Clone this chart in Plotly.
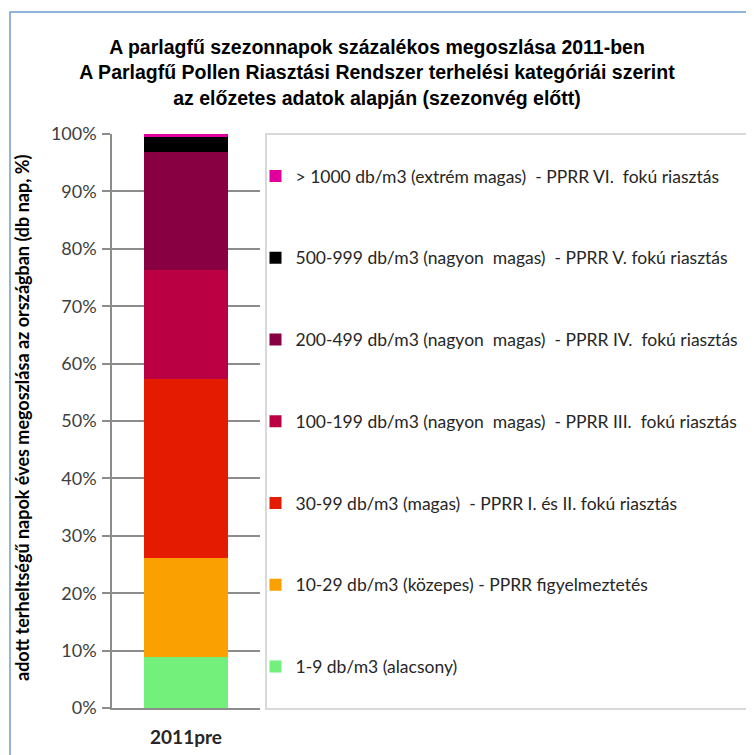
import plotly.graph_objects as go

categories = ["2011pre"]
series_names = [
    "1-9 db/m3 (alacsony)",
    "10-29 db/m3 (közepes) - PPRR figyelmeztetés",
    "30-99 db/m3 (magas)  - PPRR I. és II. fokú riasztás",
    "100-199 db/m3 (nagyon  magas)  - PPRR III.  fokú riasztás",
    "200-499 db/m3 (nagyon  magas)  - PPRR IV.  fokú riasztás",
    "500-999 db/m3 (nagyon  magas)  - PPRR V. fokú riasztás",
    "> 1000 db/m3 (extrém magas)  - PPRR VI.  fokú riasztás",
]
series_values = [0.089, 0.173, 0.312, 0.189, 0.205, 0.026, 0.006]
series_colors = ["#73F07B", "#FAA000", "#E41B00", "#BA0042", "#890042", "#000000", "#E2009D"]
y_tick_vals = [i / 10 for i in range(11)]
y_tick_text = [f"{i*10}%" for i in range(11)]

title_lines = [
    "A parlagfű szezonnapok százalékos megoszlása 2011-ben",
    "A Parlagfű Pollen Riasztási Rendszer terhelési kategóriái szerint",
    "az előzetes adatok alapján (szezonvég előtt)",
]
y_title = "adott terheltségű napok éves megoszlása az országban (db nap, %)"

fig = go.Figure()
n = len(series_names)
for i, (name, val, col) in enumerate(zip(series_names, series_values, series_colors)):
    fig.add_trace(go.Bar(
        x=categories, y=[val], name=name, marker_color=col,
        marker_line_width=0, width=0.57, legendgroup=name, legendrank=100 * (n - i),
    ))

# page body has an 8px margin, so figure coords = page coords - 8
O = 8
W, H = 754 - O, 755 - O
L, R, T, B = 112 - O, W - (260 - O), 134 - O, H - (708 - O)
pw, ph = W - L - R, H - T - B

def px_x(x):  # page px -> paper
    return (x - O - L) / pw

def px_y(y):
    return (H - B - (y - O)) / ph

grid = "#8C8C8C"
fig.update_layout(
    width=W, height=H,
    margin=dict(l=L, r=R, t=T, b=B, autoexpand=False),
    paper_bgcolor="white", plot_bgcolor="white",
    barmode="stack",
    showlegend=True,
    legend=dict(
        x=px_x(255.5), y=px_y(158), xanchor="left", yanchor="top",
        traceorder="grouped", tracegroupgap=56,
        font=dict(family="Lato", size=17.5, color="#262626"),
        bgcolor="rgba(0,0,0,0)", borderwidth=0,
    ),
    title=dict(
        text="<br>".join(title_lines),
        x=(377 - O) / W, xref="container", xanchor="center",
        y=1 - (54 - O) / H, yref="container", yanchor="middle",
        font=dict(family="Liberation Sans", size=19.5, color="#000000", weight="bold"),
    ),
    xaxis=dict(
        range=[-0.5, 0.5], showline=True, linecolor=grid, linewidth=1.5,
        ticks="", tickfont=dict(family="Lato", size=19, color="#262626", weight="bold"),
        showgrid=False, fixedrange=True, ticklabelstandoff=11,
    ),
    yaxis=dict(
        range=[0, 1], tickvals=y_tick_vals, ticktext=y_tick_text,
        showgrid=True, gridcolor=grid, gridwidth=1.5,
        showline=True, linecolor=grid, linewidth=1.5,
        ticks="outside", ticklen=8, tickcolor=grid, tickwidth=1.5,
        tickfont=dict(family="Lato", size=18, color="#404040"),
        ticklabelstandoff=2, zeroline=False,
    ),
    annotations=[dict(
        text=y_title, textangle=-90, x=px_x(22), y=px_y(418),
        xref="paper", yref="paper", xanchor="center", yanchor="middle",
        showarrow=False, font=dict(family="Lato", size=18, color="#000000", weight="bold"),
    )],
    shapes=[
        dict(type="rect", xref="paper", yref="paper",
             x0=px_x(10), x1=px_x(800), y0=px_y(800), y1=px_y(12),
             line=dict(color="#7299D4", width=1.5), layer="below"),
        dict(type="rect", xref="paper", yref="paper",
             x0=px_x(266), x1=px_x(800), y0=px_y(709), y1=px_y(134),
             line=dict(color="#D9D9D9", width=2), layer="below"),
    ],
)

fig.write_html("out.html")
